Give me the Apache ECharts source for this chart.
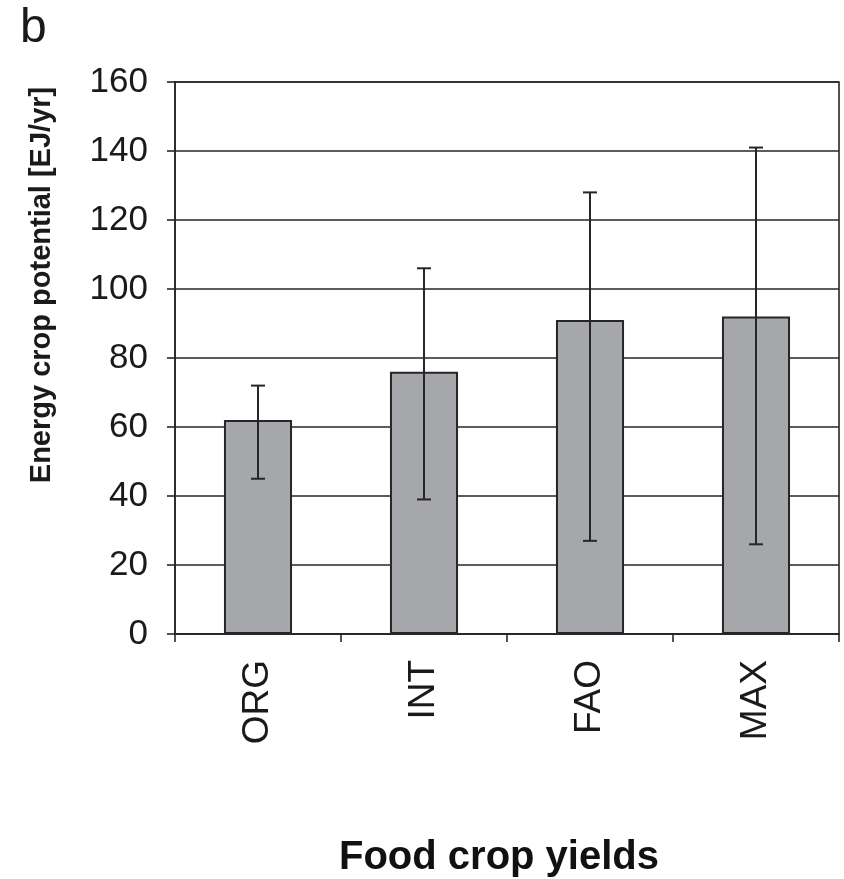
<!DOCTYPE html>
<html>
<head>
<meta charset="utf-8">
<script src="https://cdn.jsdelivr.net/npm/echarts@6/dist/echarts.min.js"></script>
<style>
  html, body { margin: 0; padding: 0; background: #ffffff; }
  #chart { width: 844px; height: 879px; }
</style>
</head>
<body>
<div id="chart"></div>
<script>
// Energy crop potential under different food crop yield scenarios
const categories = ['ORG', 'INT', 'FAO', 'MAX'];
const potential = [62, 76, 91, 92];
const upperBound = [72, 106, 128, 141];
const lowerBound = [45, 39, 27, 26];
const yTicks = [0, 20, 40, 60, 80, 100, 120, 140, 160];

const ink = '#262626';
const font = '"Liberation Sans", Arial, sans-serif';

const chart = echarts.init(document.getElementById('chart'));

const errorData = categories.map((c, i) => [i, lowerBound[i], upperBound[i]]);

chart.setOption({
  animation: false,
  backgroundColor: '#ffffff',
  grid: {
    left: 175, right: 5, top: 82, bottom: 245,
    show: true, borderColor: ink, borderWidth: 1.6, backgroundColor: 'transparent'
  },
  xAxis: {
    type: 'category',
    data: categories,
    axisLine: { lineStyle: { color: ink, width: 1.6 } },
    axisTick: { show: true, length: 8, lineStyle: { color: ink, width: 1.6 } },
    axisLabel: {
      rotate: 90, margin: 26, color: '#1a1a1a',
      fontFamily: font, fontSize: 37
    }
  },
  yAxis: {
    type: 'value',
    min: yTicks[0], max: yTicks[yTicks.length - 1], interval: 20,
    axisLine: { show: true, lineStyle: { color: ink, width: 1.6 } },
    axisTick: { show: true, length: 8, lineStyle: { color: ink, width: 1.6 } },
    splitLine: { show: true, lineStyle: { color: ink, width: 1.6 } },
    axisLabel: { margin: 27, color: '#1a1a1a', fontFamily: font, fontSize: 35 }
  },
  series: [
    {
      type: 'bar',
      data: potential,
      barWidth: '41%',
      itemStyle: { color: '#a6a7aa', borderColor: ink, borderWidth: 2 },
      z: 2
    },
    {
      type: 'custom',
      data: errorData,
      z: 3,
      renderItem: function (params, api) {
        const x = api.value(0);
        const lo = api.coord([x, api.value(1)]);
        const hi = api.coord([x, api.value(2)]);
        const cap = 7;
        const style = { stroke: ink, lineWidth: 2 };
        return {
          type: 'group',
          children: [
            { type: 'line', shape: { x1: lo[0], y1: lo[1], x2: hi[0], y2: hi[1] }, style: style },
            { type: 'line', shape: { x1: hi[0] - cap, y1: hi[1], x2: hi[0] + cap, y2: hi[1] }, style: style },
            { type: 'line', shape: { x1: lo[0] - cap, y1: lo[1], x2: lo[0] + cap, y2: lo[1] }, style: style }
          ]
        };
      }
    }
  ],
  graphic: [
    {
      type: 'text', x: 20, y: 29,
      style: { text: 'b', font: '48px ' + font, fill: '#1a1a1a', align: 'left', verticalAlign: 'middle' }
    },
    {
      type: 'text', x: 42, y: 285, rotation: Math.PI / 2,
      style: {
        text: 'Energy crop potential [EJ/yr]', font: 'bold 29px ' + font,
        fill: '#1a1a1a', align: 'center', verticalAlign: 'middle'
      }
    },
    {
      type: 'text', x: 499, y: 858,
      style: {
        text: 'Food crop yields', font: 'bold 40px ' + font,
        fill: '#111111', align: 'center', verticalAlign: 'middle'
      }
    }
  ]
});
</script>
</body>
</html>
